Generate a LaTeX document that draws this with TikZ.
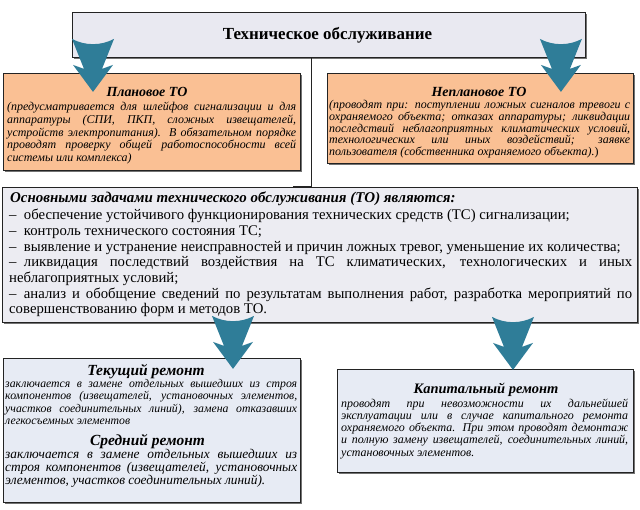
\documentclass[tikz,border=0pt]{standalone}
\usepackage{fontspec}
\setmainfont{Liberation Serif}
\usetikzlibrary{shadows}
\definecolor{arrowcol}{RGB}{47,125,152}
\definecolor{topfill}{RGB}{233,233,241}
\definecolor{orangefill}{RGB}{250,192,148}
\definecolor{mainfill}{RGB}{236,236,242}
\definecolor{bluefill}{RGB}{231,235,244}
\definecolor{edgecol}{RGB}{35,35,35}
\tikzset{
  boxnode/.style={draw=edgecol,line width=0.9bp,anchor=north west,inner sep=0pt,
    drop shadow={shadow xshift=1.2bp,shadow yshift=-1.2bp,opacity=0.55,fill=black}},
  titletext/.style={anchor=base,inner sep=0pt,font=\fontsize{#1}{#1}\selectfont\bfseries\itshape},
  bodytext/.style n args={3}{anchor=base west,inner sep=0pt,text width=#1,align=justify,
    font=\fontsize{#2}{#3}\selectfont\itshape},
  bigarrow/.pic={\fill[arrowcol] (-21,0) .. controls (-8,7) and (8,7) .. (21,0)
      -- (9,30) -- (20,26) -- (0,53) -- (-20,26) -- (-9,30) -- cycle;}
}
\begin{document}
\begin{tikzpicture}[x=1bp,y=-1bp]
\useasboundingbox (0,0) rectangle (640,510);
\tolerance=9999 \hbadness=10000 \emergencystretch=20pt
% boxes
\node[boxnode,fill=topfill,minimum width=513bp,minimum height=45bp] (top) at (72,12) {};
\node[anchor=center,inner sep=0pt,font=\fontsize{17}{17}\selectfont\bfseries] (toptitle) at (327.5,35) {Техническое обслуживание};
\node[boxnode,fill=orangefill,minimum width=297bp,minimum height=97bp] (plan) at (3,73) {};
\node[boxnode,fill=orangefill,minimum width=306bp,minimum height=90bp] (unplan) at (327,73) {};
\node[boxnode,fill=mainfill,minimum width=635bp,minimum height=135bp] (main) at (2,187) {};
\node[boxnode,fill=bluefill,minimum width=297bp,minimum height=144bp] (cur) at (3,358) {};
\node[boxnode,fill=bluefill,minimum width=296bp,minimum height=103bp] (cap) at (337,369) {};
% connector
\coordinate (hook) at (293,187);
\draw[edgecol,line width=1bp] (top.south -| 311,0) -- (main.north -| 311,0) -- (hook);
% plan texts
\node[titletext=14] (plant) at (147,97) {Плановое ТО};
\node[bodytext={289bp}{12}{12.8}] (planb) at (7,110.5) {(предусматривается для шлейфов сигнализации и для\linebreak аппаратуры (СПИ, ПКП, сложных извещателей,\linebreak устройств электропитания). В обязательном порядке\linebreak проводят проверку общей работоспособности всей\linebreak системы или комплекса)};
\node[titletext=14] (unplant) at (479,96.5) {Неплановое ТО};
\node[bodytext={301bp}{12}{11.8}] (unplanb) at (329,108.5) {(проводят при: поступлении ложных сигналов тревоги с\linebreak охраняемого объекта; отказах аппаратуры; ликвидации\linebreak последствий неблагоприятных климатических условий,\linebreak технологических или иных воздействий; заявке\linebreak пользователя (собственника охраняемого объекта).\textup{)}};
% main texts
\node[anchor=base west,inner sep=0pt,font=\fontsize{15}{15}\selectfont\bfseries\itshape] (maint) at (10,202.5) {Основными задачами технического обслуживания (ТО) являются:};
\node[anchor=base west,inner sep=0pt,text width=623bp,align=justify,font=\fontsize{14.8}{15.7}\selectfont] (mainb) at (9,220) {–\hspace{0.5em}обеспечение устойчивого функционирования технических средств (ТС) сигнализации;\par
–\hspace{0.5em}контроль технического состояния ТС;\par
–\hspace{0.5em}выявление и устранение неисправностей и причин ложных тревог, уменьшение их количества;\par
–\hspace{0.5em}ликвидация последствий воздействия на ТС климатических, технологических и иных\linebreak неблагоприятных условий;\par
–\hspace{0.5em}анализ и обобщение сведений по результатам выполнения работ, разработка мероприятий по\linebreak совершенствованию форм и методов ТО.};
% bottom texts
\node[titletext=15.5] (curt) at (146,375) {Текущий ремонт};
\node[bodytext={292bp}{11.8}{12.7}] (curb) at (5,387) {заключается в замене отдельных вышедших из строя\linebreak компонентов (извещателей, установочных элементов,\linebreak участков соединительных линий), замена отказавших\linebreak легкосъемных элементов};
\node[titletext=15.5] (midt) at (147.5,445) {Средний ремонт};
\node[bodytext={292bp}{13.4}{13.5}] (midb) at (5,458) {заключается в замене отдельных вышедших из\linebreak строя компонентов (извещателей, установочных\linebreak элементов, участков соединительных линий).};
\node[titletext=14.5] (capt) at (486,393) {Капитальный ремонт};
\node[bodytext={287bp}{12}{12.3}] (capb) at (341,407) {проводят при невозможности их дальнейшей\linebreak эксплуатации или в случае капитального ремонта\linebreak охраняемого объекта. При этом проводят демонтаж\linebreak и полную замену извещателей, соединительных линий,\linebreak установочных элементов.};
% arrows
\path (top.south west) ++(21,-19) pic {bigarrow};
\path (top.south east) ++(-25,-19) pic {bigarrow};
\path (main.south west) ++(231,-7) pic {bigarrow};
\path (main.south west) ++(511,-6) pic {bigarrow};
\end{tikzpicture}
\end{document}
